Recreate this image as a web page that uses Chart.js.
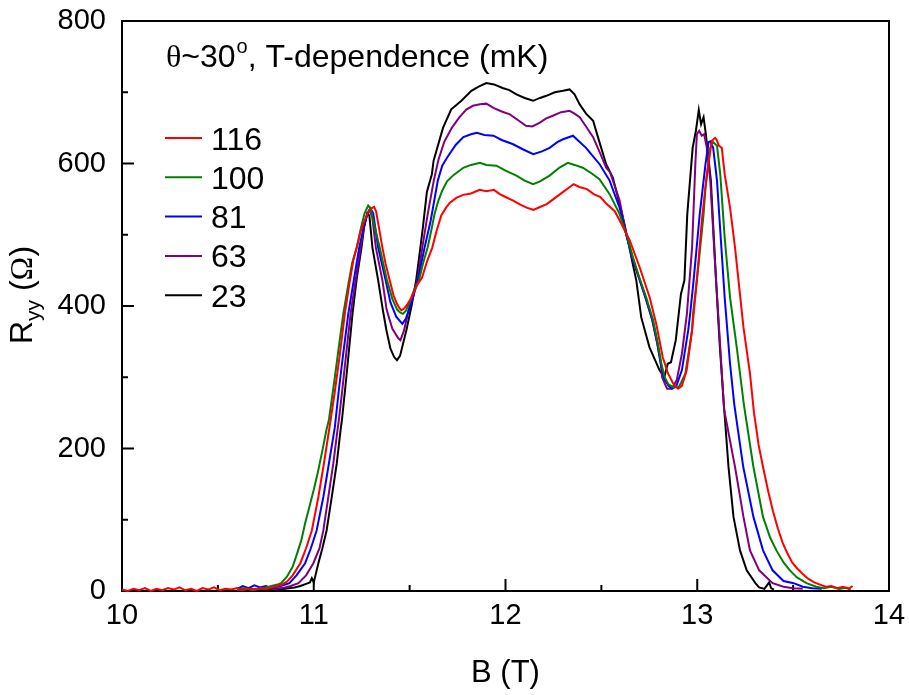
<!DOCTYPE html>
<html>
<head>
<meta charset="utf-8">
<script src="https://cdn.jsdelivr.net/npm/chart.js@4.4.1/dist/chart.umd.min.js"></script>
<style>
  body { margin: 0; background: #fff; }
  canvas { display: block; }
</style>
</head>
<body>
<canvas id="ryygraph" width="909" height="695"></canvas>
<script>
// Field B (T), resistance Ryy (Ohm), one array per temperature (mK)
var ryy116 = [
  [10.00,2],[10.03,0],[10.06,3],[10.09,1],[10.12,4],[10.15,0],[10.18,3],[10.21,1],[10.24,4],[10.27,2],
  [10.30,5],[10.33,1],[10.36,3],[10.39,0],[10.42,4],[10.45,2],[10.48,5],[10.51,1],[10.54,3],[10.57,2],
  [10.60,4],[10.63,1],[10.66,3],[10.69,2],[10.72,4],[10.75,3],[10.78,5],[10.81,7],[10.84,10],[10.86,13],
  [10.89,22],[10.93,39],[10.96,60],[10.99,85],[11.024,132],[11.053,179],[11.08,226],[11.11,280],[11.135,330],
  [11.162,389],[11.185,430],[11.207,465],[11.227,485],[11.245,505],[11.265,520],[11.285,532],[11.30,537],
  [11.315,539],[11.325,533],[11.34,510],[11.358,482],[11.375,459],[11.396,436],[11.416,415],[11.434,403],
  [11.447,397],[11.457,394],[11.47,396],[11.49,403],[11.51,412],[11.54,430],[11.565,440],[11.59,462],
  [11.618,482],[11.64,505],[11.665,527],[11.69,538],[11.71,545],[11.745,552],[11.78,556],[11.82,558],
  [11.865,563],[11.90,561],[11.94,563],[11.97,557],[12.00,553],[12.04,548],[12.08,542],[12.11,538],
  [12.145,535],[12.18,539],[12.215,543],[12.25,550],[12.29,558],[12.33,566],[12.355,571],[12.385,567],
  [12.425,564],[12.46,557],[12.495,553],[12.528,543],[12.57,533],[12.605,515],[12.648,492],[12.70,454],
  [12.752,412],[12.786,375],[12.82,328],[12.848,305],[12.875,291],[12.90,284],[12.92,288],[12.945,310],
  [12.973,366],[12.998,436],[13.024,520],[13.05,585],[13.076,632],[13.093,636],[13.10,634],[13.113,625],
  [13.128,622],[13.143,585],[13.171,538],[13.197,482],[13.241,370],[13.275,305],[13.296,250],[13.32,205],
  [13.343,174],[13.37,140],[13.395,112],[13.42,88],[13.445,68],[13.47,53],[13.495,40],[13.52,32],
  [13.55,24],[13.58,17],[13.61,12],[13.64,9],[13.67,6],[13.70,7],[13.73,4],[13.76,6],[13.79,3],[13.81,7]
];
var ryy100 = [
  [10.60,2],[10.64,4],[10.68,1],[10.72,3],[10.75,5],[10.78,7],[10.81,9],[10.83,11],[10.86,20],[10.89,34],
  [10.91,50],[10.935,71],[10.955,95],[10.977,118],[11.00,142],[11.02,165],[11.045,197],[11.066,226],
  [11.079,240],[11.11,300],[11.132,345],[11.154,389],[11.18,430],[11.20,460],[11.224,482],[11.245,508],
  [11.265,530],[11.284,541],[11.295,538],[11.31,520],[11.344,482],[11.382,436],[11.41,410],[11.435,395],
  [11.45,391],[11.465,389],[11.48,393],[11.50,405],[11.52,420],[11.549,436],[11.57,460],[11.594,482],
  [11.612,505],[11.63,529],[11.65,548],[11.67,562],[11.695,575],[11.73,584],[11.78,594],[11.82,598],
  [11.867,601],[11.90,598],[11.953,597],[12.00,590],[12.057,583],[12.10,576],[12.144,571],[12.18,575],
  [12.23,583],[12.28,594],[12.325,601],[12.36,598],[12.403,594],[12.45,586],[12.49,578],[12.543,557],
  [12.595,529],[12.63,501],[12.665,468],[12.698,440],[12.734,412],[12.77,380],[12.795,347],[12.813,319],
  [12.83,300],[12.85,290],[12.875,286],[12.903,286],[12.915,292],[12.938,305],[12.973,366],[12.978,389],
  [13.007,459],[13.033,529],[13.043,566],[13.068,622],[13.083,630],[13.103,625],[13.12,585],[13.143,496],
  [13.171,412],[13.206,342],[13.243,262],[13.293,174],[13.343,104],[13.38,75],[13.413,57],[13.45,40],
  [13.483,29],[13.52,19],[13.57,11],[13.62,6],[13.66,4],[13.70,6],[13.74,3],[13.78,5],[13.80,2]
];
var ryy81 = [
  [10.60,3],[10.63,7],[10.66,4],[10.69,8],[10.72,5],[10.75,7],[10.78,4],[10.81,6],[10.84,8],[10.873,11],
  [10.91,22],[10.955,39],[10.985,60],[11.015,85],[11.05,132],[11.079,179],[11.11,230],[11.13,280],
  [11.15,325],[11.18,389],[11.205,430],[11.237,482],[11.26,510],[11.28,530],[11.296,537],[11.31,530],
  [11.336,482],[11.375,436],[11.40,405],[11.43,385],[11.462,375],[11.48,382],[11.51,405],[11.543,436],
  [11.578,482],[11.61,520],[11.647,576],[11.67,597],[11.695,608],[11.74,626],[11.78,637],[11.82,641],
  [11.85,643],[11.89,640],[11.937,639],[11.98,633],[12.04,627],[12.09,620],[12.145,613],[12.19,617],
  [12.23,622],[12.27,630],[12.30,634],[12.352,639],[12.38,632],[12.42,622],[12.45,612],[12.491,599],
  [12.543,576],[12.595,538],[12.63,500],[12.662,468],[12.696,440],[12.73,412],[12.766,380],[12.792,347],
  [12.81,319],[12.828,298],[12.85,288],[12.868,284],[12.89,287],[12.92,310],[12.953,366],[12.963,389],
  [12.981,436],[13.013,529],[13.043,599],[13.059,630],[13.068,631],[13.083,622],[13.103,576],[13.12,506],
  [13.143,412],[13.171,319],[13.193,262],[13.24,174],[13.293,104],[13.343,57],[13.393,29],[13.45,14],
  [13.503,11],[13.55,6],[13.60,4],[13.65,3]
];
var ryy63 = [
  [10.60,1],[10.65,3],[10.70,2],[10.75,4],[10.80,3],[10.85,5],[10.88,7],[10.92,11],[10.96,22],[10.998,39],
  [11.03,60],[11.05,85],[11.076,132],[11.102,179],[11.124,226],[11.131,240],[11.15,285],[11.17,335],
  [11.192,389],[11.215,430],[11.244,482],[11.265,515],[11.28,530],[11.29,535],[11.305,525],[11.324,482],
  [11.358,436],[11.38,395],[11.41,368],[11.44,355],[11.452,352],[11.47,365],[11.50,400],[11.54,436],
  [11.566,482],[11.595,530],[11.626,576],[11.65,605],[11.68,630],[11.72,650],[11.76,665],[11.797,676],
  [11.83,681],[11.867,683],[11.90,684],[11.937,678],[11.98,673],[12.023,669],[12.07,660],[12.107,653],
  [12.14,652],[12.177,657],[12.21,663],[12.247,667],[12.29,672],[12.334,674],[12.36,670],[12.387,665],
  [12.42,652],[12.457,637],[12.491,616],[12.525,594],[12.545,588],[12.595,548],[12.63,500],[12.66,468],
  [12.695,440],[12.73,412],[12.766,380],[12.792,347],[12.81,319],[12.817,300],[12.834,289],[12.843,284],
  [12.868,284],[12.893,296],[12.92,333],[12.946,389],[12.973,482],[12.99,599],[12.998,641],[13.01,646],
  [13.023,639],[13.036,641],[13.05,622],[13.068,576],[13.093,459],[13.12,342],[13.14,255],[13.197,174],
  [13.241,104],[13.275,57],[13.323,29],[13.393,11],[13.45,6],[13.50,4],[13.55,3]
];
var ryy23 = [
  [10.60,0],[10.70,2],[10.80,1],[10.85,3],[10.90,5],[10.93,7],[10.96,10],[10.98,12],[10.99,18],[11.00,12],
  [11.024,39],[11.045,60],[11.067,85],[11.094,132],[11.12,179],[11.14,226],[11.147,240],[11.17,300],
  [11.202,389],[11.225,440],[11.249,482],[11.262,510],[11.279,530],[11.29,527],[11.306,482],[11.336,436],
  [11.36,395],[11.379,366],[11.40,340],[11.42,328],[11.434,324],[11.45,330],[11.483,366],[11.51,400],
  [11.534,436],[11.556,482],[11.569,510],[11.59,560],[11.616,585],[11.625,604],[11.674,650],[11.717,676],
  [11.77,688],[11.822,702],[11.86,708],[11.90,713],[11.94,711],[11.985,706],[12.02,703],[12.057,697],
  [12.10,692],[12.144,688],[12.18,692],[12.213,695],[12.257,700],[12.30,702],[12.334,704],[12.36,697],
  [12.387,683],[12.42,670],[12.457,660],[12.49,630],[12.525,599],[12.56,580],[12.595,543],[12.62,515],
  [12.64,490],[12.663,460],[12.682,436],[12.708,384],[12.751,342],[12.803,310],[12.828,300],[12.846,319],
  [12.863,321],[12.888,352],[12.915,417],[12.933,436],[12.948,529],[12.976,622],[12.993,646],[13.008,675],
  [13.02,655],[13.033,665],[13.045,641],[13.071,576],[13.098,436],[13.118,342],[13.137,268],[13.163,174],
  [13.189,104],[13.223,57],[13.258,29],[13.303,11],[13.323,5],[13.35,3],[13.375,12],[13.385,4],[13.40,2]
];

var tempLabels = ["116", "100", "81", "63", "23"];
var tempColors = ["#ff0000", "#008000", "#0000ff", "#800080", "#000000"];
var tempSeries = [ryy116, ryy100, ryy81, ryy63, ryy23];

var xMajor = [10, 11, 12, 13, 14];
var xMinor = [10.5, 11.5, 12.5, 13.5];
var yMajor = [0, 200, 400, 600, 800];
var yMinor = [100, 300, 500, 700];

var sans = "'Liberation Sans', Arial, sans-serif";
var serif = "'Liberation Serif', 'Times New Roman', serif";

Chart.defaults.font.family = sans;
Chart.defaults.font.size = 29;
Chart.defaults.color = "#000";

// box, inward ticks
var framePlugin = {
    id: "frame",
    beforeDatasetsDraw: function (chart) {
        var ctx = chart.ctx, a = chart.chartArea;
        var sx = chart.scales.x, sy = chart.scales.y;
        ctx.save();
        ctx.strokeStyle = "#000";
        ctx.lineWidth = 2;
        ctx.strokeRect(a.left, a.top, a.right - a.left, a.bottom - a.top);
        ctx.beginPath();
        xMajor.forEach(function (v) {
            var px = sx.getPixelForValue(v);
            ctx.moveTo(px, a.bottom); ctx.lineTo(px, a.bottom - 12);
        });
        xMinor.forEach(function (v) {
            var px = sx.getPixelForValue(v);
            ctx.moveTo(px, a.bottom); ctx.lineTo(px, a.bottom - 6);
        });
        yMajor.forEach(function (v) {
            var py = sy.getPixelForValue(v);
            ctx.moveTo(a.left, py); ctx.lineTo(a.left + 12, py);
        });
        yMinor.forEach(function (v) {
            var py = sy.getPixelForValue(v);
            ctx.moveTo(a.left, py); ctx.lineTo(a.left + 6, py);
        });
        ctx.stroke();
        ctx.restore();
    },
    afterDraw: function (chart) {
        var ctx = chart.ctx, a = chart.chartArea;
        ctx.save();
        ctx.fillStyle = "#000";
        ctx.textBaseline = "alphabetic";

        // x title
        ctx.font = "31px " + sans;
        ctx.textAlign = "center";
        ctx.fillText("B (T)", (a.left + a.right) / 2, 682);

        // y title, rotated
        ctx.save();
        ctx.translate(32, 295);
        ctx.rotate(-Math.PI / 2);
        ctx.textAlign = "left";
        ctx.font = "32px " + sans;
        var wR = ctx.measureText("R").width;
        var wP = ctx.measureText(" (").width;
        var wC = ctx.measureText(")").width;
        ctx.font = "21px " + sans;
        var wS = ctx.measureText("yy").width;
        ctx.font = "32px " + serif;
        var wO = ctx.measureText("\u03A9").width;
        var x0 = -(wR + wS + wP + wO + wC) / 2;
        ctx.font = "32px " + sans;
        ctx.fillText("R", x0, 0);
        ctx.font = "21px " + sans;
        ctx.fillText("yy", x0 + wR, 8);
        ctx.font = "32px " + sans;
        ctx.fillText(" (", x0 + wR + wS, 0);
        ctx.font = "32px " + serif;
        ctx.fillText("\u03A9", x0 + wR + wS + wP, 0);
        ctx.font = "32px " + sans;
        ctx.fillText(")", x0 + wR + wS + wP + wO, 0);
        ctx.restore();

        // heading inside the plot
        ctx.textAlign = "left";
        var hx = 166, hy = 67;
        ctx.font = "32px " + serif;
        ctx.fillText("\u03B8", hx, hy);
        hx += ctx.measureText("\u03B8").width;
        ctx.font = "32px " + sans;
        ctx.fillText("~30", hx, hy);
        hx += ctx.measureText("~30").width + 1;
        ctx.font = "20px " + sans;
        ctx.fillText("o", hx, hy - 14);
        hx += ctx.measureText("o").width;
        ctx.font = "32px " + sans;
        ctx.fillText(", T-dependence (mK)", hx, hy);

        // legend
        chart.data.datasets.forEach(function (ds, i) {
            var ly = 138 + i * 39.3;
            ctx.strokeStyle = ds.borderColor;
            ctx.lineWidth = 2;
            ctx.beginPath();
            ctx.moveTo(165, ly); ctx.lineTo(202, ly);
            ctx.stroke();
            ctx.fillText(ds.label, 211, ly + 11.5);
        });
        ctx.restore();
    }
};

var graph = document.getElementById("ryygraph").getContext("2d");

new Chart(graph, {
    type: "line",
    data: {
        datasets: tempSeries.map(function (s, i) {
            return {
                label: tempLabels[i],
                data: s.map(function (p) { return { x: p[0], y: p[1] }; }),
                borderColor: tempColors[i],
                backgroundColor: tempColors[i],
                borderWidth: 2,
                pointRadius: 0,
                tension: 0,
                clip: 4
            };
        })
    },
    options: {
        responsive: false,
        animation: false,
        layout: { padding: { top: 21, right: 20, left: 0, bottom: 0 } },
        plugins: {
            legend: { display: false },
            tooltip: { enabled: false }
        },
        scales: {
            x: {
                type: "linear",
                min: 10,
                max: 14,
                grid: { display: false, drawTicks: false },
                border: { display: false },
                ticks: { stepSize: 1, padding: 8, maxRotation: 0 },
                afterFit: function (scale) {
                    scale.height = 104;
                    scale.paddingLeft = 0;
                    scale.paddingRight = 0;
                }
            },
            y: {
                type: "linear",
                min: 0,
                max: 800,
                grid: { display: false, drawTicks: false },
                border: { display: false },
                ticks: { stepSize: 200, padding: 16 },
                afterFit: function (scale) {
                    scale.width = 122;
                    scale.paddingTop = 0;
                    scale.paddingBottom = 0;
                }
            }
        }
    },
    plugins: [framePlugin]
});
</script>
</body>
</html>
